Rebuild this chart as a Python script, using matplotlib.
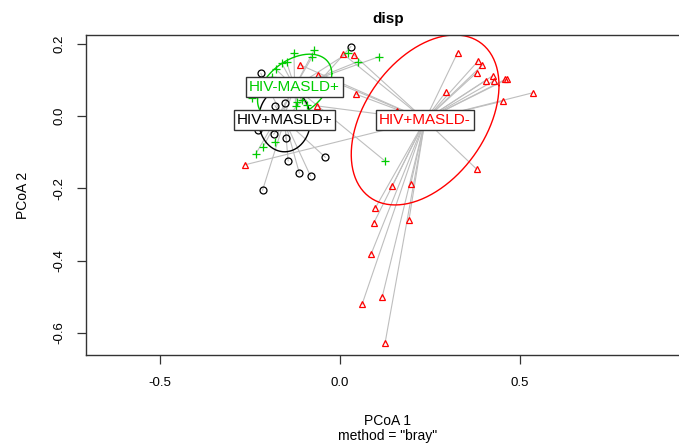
import numpy as np
import matplotlib
matplotlib.use("Agg")
import matplotlib.pyplot as plt

plt.rcParams['font.family'] = ['Liberation Sans', 'DejaVu Sans']

# PCoA site scores, one set per group
groups = ['HIV+MASLD+', 'HIV+MASLD-', 'HIV-MASLD+']

black_x = [0.031, -0.219, -0.179, -0.228, -0.183, -0.149, -0.040, -0.143, -0.112, -0.081, -0.214, -0.152]
black_y = [0.192, 0.118, 0.028, -0.039, -0.050, -0.062, -0.114, -0.124, -0.158, -0.166, -0.205, 0.035]

red_x = [-0.109, -0.059, -0.064, 0.010, 0.039, 0.046, -0.263, 0.158, 0.327, 0.384,
         0.396, 0.380, 0.424, 0.405, 0.429, 0.459, 0.463, 0.294, 0.452, 0.535,
         0.380, 0.146, 0.197, 0.099, 0.095, 0.192, 0.087, 0.118, 0.062, 0.126]
red_y = [0.141, 0.113, 0.028, 0.171, 0.169, 0.060, -0.135, 0.014, 0.175, 0.152,
         0.141, 0.120, 0.111, 0.098, 0.098, 0.101, 0.101, 0.066, 0.041, 0.064,
         -0.147, -0.193, -0.189, -0.254, -0.295, -0.288, -0.382, -0.500, -0.521, -0.627]

green_x = [-0.127, -0.071, -0.076, -0.147, -0.161, -0.177, -0.189, -0.118, -0.106, -0.092,
           -0.244, -0.180, -0.212, -0.233, 0.024, 0.050, 0.109, 0.125, -0.122]
green_y = [0.175, 0.182, 0.164, 0.148, 0.146, 0.129, 0.109, 0.040, 0.044, 0.030,
           0.049, -0.071, -0.085, -0.105, 0.175, 0.150, 0.164, -0.124, 0.028]

# group centroids
cent_x = [-0.153, 0.237, -0.125]
cent_y = [-0.011, -0.011, 0.080]

# sd ellipses: sd along x, sd along y, correlation
ell_sx = [0.072, 0.205, 0.103]
ell_sy = [0.088, 0.235, 0.091]
ell_rho = [0.0, 0.406, 0.405]

xs = [black_x, red_x, green_x]
ys = [black_y, red_y, green_y]
cols = ['black', '#FF0000', '#00CD00']
marks = ['o', '^', '+']

fig = plt.figure(figsize=(6.79, 4.46), dpi=100)
ax = fig.add_axes([86/679, 1 - 355/446, 604/679, 320/446])

# segments from each site to its centroid
for i in range(3):
    for x, y in zip(xs[i], ys[i]):
        ax.plot([x, cent_x[i]], [y, cent_y[i]], color='#BEBEBE', lw=0.8, zorder=1)

# ellipses
t = np.linspace(0, 2*np.pi, 200)
for i in range(3):
    r = ell_rho[i]
    ex = cent_x[i] + ell_sx[i]*np.cos(t)
    ey = cent_y[i] + ell_sy[i]*(r*np.cos(t) + np.sqrt(1 - r**2)*np.sin(t))
    ax.plot(ex, ey, color=cols[i], lw=1, zorder=2)

# points
for i in range(3):
    if marks[i] == '+':
        ax.plot(xs[i], ys[i], ls='none', marker='+', ms=6, mew=0.9, color=cols[i], zorder=3)
    else:
        ax.plot(xs[i], ys[i], ls='none', marker=marks[i], ms=5, mew=0.9,
                mfc='none', mec=cols[i], zorder=3)

# centroid labels
for i in range(3):
    ax.text(cent_x[i], cent_y[i], groups[i], color=cols[i], fontsize=11,
            ha='center', va='center', zorder=5,
            bbox=dict(boxstyle='square,pad=0.2', fc='white', ec='#333333', lw=1))

ax.set_xlim(-0.704, 0.972)
ax.set_ylim(-0.661, 0.224)
ax.set_xticks([-0.5, 0.0, 0.5])
ax.set_xticklabels(['-0.5', '0.0', '0.5'])
ax.set_yticks([-0.6, -0.4, -0.2, 0.0, 0.2])
ax.set_yticklabels(['-0.6', '-0.4', '-0.2', '0.0', '0.2'], rotation=90, va='center')
ax.tick_params(length=6.5, width=0.9, labelsize=9.5, color='#333333')
ax.tick_params(axis='x', pad=9)
ax.tick_params(axis='y', pad=8)
for s in ax.spines.values():
    s.set_linewidth(1)
    s.set_color('#333333')

ax.set_title('disp', fontsize=11, fontweight='bold', pad=9)
ax.set_xlabel('PCoA 1', fontsize=10, labelpad=18)
ax.set_ylabel('PCoA 2', fontsize=10, labelpad=17)
fig.text(388/679, 1 - 436/446, 'method = "bray"', fontsize=10, ha='center', va='center')

fig.savefig('out.png', dpi=100)
